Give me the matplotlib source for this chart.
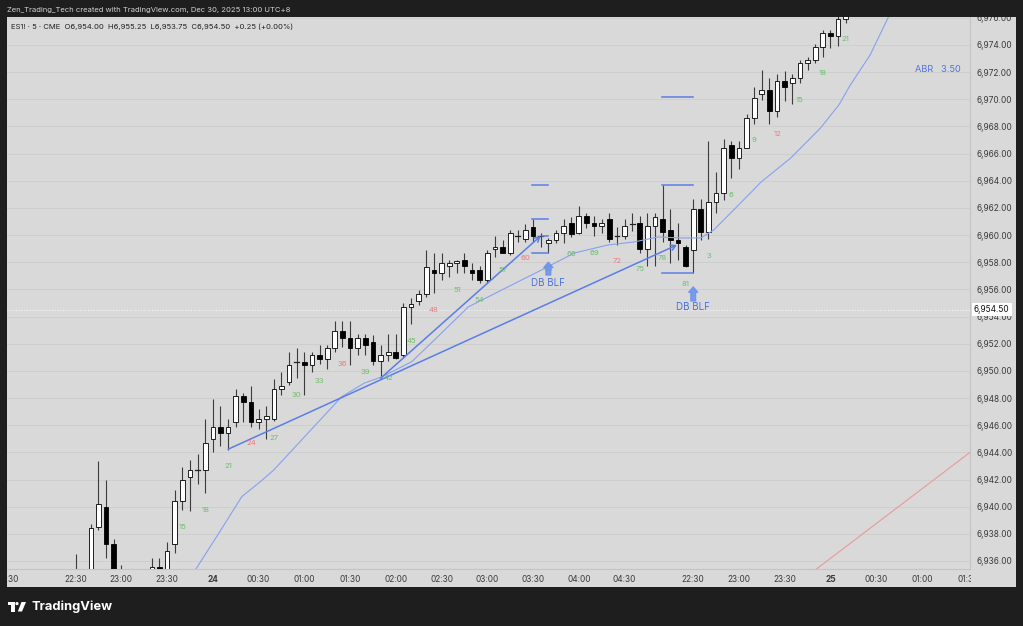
import matplotlib
matplotlib.use("Agg")
import matplotlib.pyplot as plt
from matplotlib.patches import Rectangle, Polygon, Circle
from matplotlib.transforms import Affine2D, blended_transform_factory
from matplotlib.ticker import FuncFormatter, FixedLocator

plt.rcParams['font.family'] = ['Inter', 'DejaVu Sans']

# ES1! 5 min bars, bar 0 = 22:30 (Dec 23), bar 81 = 22:30 (Dec 24)
opens = [6934.0, 6935.0, 6934.5, 6938.5, 6940.0, 6937.25, 6934.5, 6935.0, 6933.8, 6934.2,
         6935.3, 6935.55, 6935.35, 6937.25, 6940.45, 6942.2, 6942.7, 6942.7, 6944.95, 6945.9,
         6945.45, 6946.2, 6948.15, 6947.7, 6946.2, 6946.45, 6946.45, 6948.65, 6949.2, 6950.65,
         6950.65, 6950.4, 6951.15, 6950.9, 6951.65, 6952.9, 6952.4, 6951.65, 6952.4, 6952.15,
         6950.7, 6951.15, 6951.4, 6951.15, 6954.7, 6955.15, 6955.65, 6957.45, 6957.2, 6957.7,
         6957.95, 6958.15, 6957.45, 6957.45, 6956.7, 6958.95, 6959.15, 6958.65, 6959.9, 6959.7,
         6960.6, 6959.95, 6959.4, 6959.65, 6960.15, 6960.9, 6960.15, 6961.4, 6960.9, 6960.65,
         6961.15, 6959.9, 6959.95, 6960.85, 6960.9, 6958.95, 6960.65, 6961.15, 6960.4, 6959.65,
         6959.15, 6958.9, 6961.9, 6960.2, 6962.4, 6963.1, 6966.65, 6965.65, 6966.4, 6968.65,
         6970.4, 6970.65, 6969.15, 6971.35, 6971.2, 6971.6, 6972.65, 6972.9, 6973.85, 6974.85,
         6974.65, 6975.9]
highs = [6936.5, 6935.3, 6938.7, 6943.4, 6942.0, 6937.6, 6935.7, 6935.2, 6934.6, 6935.2,
         6936.2, 6936.2, 6937.4, 6941.2, 6942.95, 6943.45, 6943.9, 6946.45, 6947.9, 6947.4,
         6946.45, 6948.7, 6948.4, 6948.9, 6947.2, 6947.4, 6949.4, 6949.9, 6951.4, 6951.65,
         6951.4, 6951.4, 6951.9, 6951.9, 6953.65, 6953.65, 6953.65, 6952.75, 6952.75, 6952.65,
         6951.9, 6952.75, 6952.75, 6955.0, 6955.35, 6955.95, 6958.9, 6958.65, 6958.65, 6958.15,
         6958.2, 6958.65, 6957.95, 6957.7, 6958.9, 6959.9, 6959.65, 6960.4, 6960.4, 6960.85,
         6961.2, 6960.13, 6959.76, 6960.38, 6961.2, 6961.3, 6962.15, 6961.65, 6961.4, 6961.15,
         6961.65, 6960.6, 6961.15, 6961.65, 6961.4, 6961.65, 6961.65, 6963.7, 6961.9, 6960.9,
         6959.3, 6962.65, 6962.65, 6966.9, 6964.65, 6967.05, 6966.9, 6966.9, 6968.95, 6970.9,
         6972.15, 6971.6, 6971.85, 6972.1, 6971.85, 6972.9, 6973.15, 6974.1, 6975.1, 6975.1,
         6976.1, 6976.6]
lows = [6933.0, 6933.8, 6934.0, 6938.3, 6936.2, 6934.0, 6933.5, 6933.0, 6932.5, 6933.6,
        6934.5, 6934.8, 6935.0, 6936.6, 6939.75, 6939.7, 6941.7, 6941.0, 6944.0, 6944.5,
        6944.2, 6945.9, 6946.2, 6945.9, 6945.7, 6944.95, 6946.3, 6948.2, 6948.95, 6949.45,
        6948.2, 6949.9, 6950.5, 6950.15, 6951.4, 6951.75, 6950.45, 6951.15, 6951.15, 6950.45,
        6949.45, 6950.7, 6950.9, 6950.95, 6953.45, 6954.85, 6955.45, 6955.7, 6956.7, 6956.95,
        6957.2, 6957.2, 6956.7, 6956.45, 6956.45, 6958.4, 6958.65, 6958.5, 6959.5, 6959.5,
        6959.5, 6959.15, 6958.71, 6959.4, 6959.45, 6959.85, 6960.1, 6960.5, 6959.9, 6960.15,
        6959.5, 6959.3, 6959.7, 6960.3, 6958.7, 6957.7, 6957.7, 6959.5, 6957.95, 6958.15,
        6957.65, 6957.2, 6959.65, 6959.7, 6961.65, 6962.6, 6964.2, 6964.9, 6966.4, 6968.2,
        6969.95, 6968.2, 6968.7, 6969.9, 6969.65, 6971.2, 6972.15, 6972.65, 6973.15, 6973.8,
        6973.9, 6975.65]
closes = [6935.0, 6934.5, 6938.4, 6940.2, 6937.25, 6934.5, 6935.0, 6933.8, 6934.2, 6934.8,
          6935.55, 6935.35, 6936.7, 6940.45, 6941.95, 6942.7, 6942.75, 6944.7, 6945.9, 6945.45,
          6945.9, 6948.15, 6947.7, 6946.2, 6946.45, 6946.7, 6948.65, 6948.9, 6950.4, 6950.7,
          6950.4, 6951.15, 6950.9, 6951.65, 6952.9, 6952.4, 6951.65, 6952.4, 6951.9, 6950.7,
          6951.15, 6951.4, 6950.95, 6954.7, 6954.95, 6955.65, 6957.65, 6957.2, 6957.95, 6957.95,
          6958.1, 6957.7, 6957.2, 6956.7, 6958.65, 6959.15, 6958.65, 6960.15, 6959.95, 6960.4,
          6959.9, 6959.9, 6959.65, 6960.15, 6960.7, 6960.1, 6961.4, 6960.9, 6960.65, 6960.9,
          6959.7, 6959.95, 6960.65, 6960.9, 6958.95, 6960.65, 6961.35, 6960.2, 6959.65, 6959.45,
          6957.7, 6961.9, 6960.2, 6962.4, 6963.1, 6966.4, 6965.65, 6966.4, 6968.65, 6970.1,
          6970.65, 6969.15, 6971.35, 6970.9, 6971.6, 6972.65, 6972.9, 6973.85, 6974.85, 6974.65,
          6975.9, 6976.4]

# EMA (thin blue) and slow MA (red)
ema_x = [15.7, 18.8, 21.8, 24.5, 26.0, 34.9, 37.9, 40.2, 44.1, 48.4, 51.5, 55.9, 61.1, 65.4,
         69.8, 73.2, 76.4, 79.4, 82.0, 83.7, 86.3, 88.5, 89.9, 93.8, 97.7, 100.1, 101.6, 104.2, 106.6]
ema_y = [6935.34, 6938.06, 6940.74, 6941.97, 6942.71, 6948.10, 6949.11, 6949.57, 6950.68, 6953.01,
         6954.71, 6955.96, 6957.43, 6958.68, 6959.27, 6959.49, 6959.86, 6959.79, 6959.79, 6960.38,
         6961.85, 6963.10, 6963.91, 6965.68, 6967.89, 6969.58, 6971.05, 6973.26, 6976.06]
ma_x = [97.0, 117.3]
ma_y = [6935.34, 6944.0]

# time axis
time_idx = [-9, 0, 6, 12, 18, 24, 30, 36, 42, 48, 54, 60, 66, 72, 81, 87, 93, 99, 105, 111, 117]
time_lbl = ['04:30', '22:30', '23:00', '23:30', '24', '00:30', '01:00', '01:30', '02:00', '02:30',
            '03:00', '03:30', '04:00', '04:30', '22:30', '23:00', '23:30', '25', '00:30', '01:00', '01:30']

# session bar counts (every 3rd bar)
s1_counts = list(range(3, 82, 3))
s2_counts = list(range(3, 22, 3))

last_price = 6954.50

W, H = 1023, 626
fig = plt.figure(figsize=(W / 100, H / 100), dpi=100)
fig.patch.set_facecolor('#1e1e1e')
px = Affine2D().scale(1 / W, -1 / H).translate(0, 1) + fig.transFigure

BG = '#d9d9d9'
BLUE = '#5a7ee6'

# grey panel behind plot, price axis and time axis
fig.add_artist(Rectangle((7, 17), 1009, 570, transform=px, facecolor=BG, edgecolor='none', zorder=-1))

ax = fig.add_axes([7 / W, 1 - 569 / H, 963 / W, 552 / H])
ax.set_facecolor(BG)
ax.set_xlim(-8.63, 117.3)
ax.set_ylim(6935.41, 6976.06)

for s in ['left', 'top']:
    ax.spines[s].set_visible(False)
for s in ['right', 'bottom']:
    ax.spines[s].set_color('#c4c4c4')
    ax.spines[s].set_linewidth(0.8)

# grid
for lvl in range(6936, 6977, 2):
    ax.axhline(lvl, color='#cecece', lw=0.7, zorder=0)

# y axis on the right
ax.yaxis.tick_right()
ax.yaxis.set_major_locator(FixedLocator(list(range(6936, 6977, 2))))
ax.yaxis.set_major_formatter(FuncFormatter(lambda v, p: '{:,.2f}'.format(v)))
ax.tick_params(axis='y', length=0, pad=5, labelsize=6, labelcolor='#3a3a3a')

# x axis
ax.set_xticks(time_idx)
ax.set_xticklabels(time_lbl)
ax.tick_params(axis='x', length=0, pad=4, labelsize=6, labelcolor='#3a3a3a')
for t in ax.get_xticklabels():
    if t.get_text() in ('24', '25'):
        t.set_fontweight('bold')

# candles
bw = 0.62
for i in range(len(opens)):
    o, h, l, c = opens[i], highs[i], lows[i], closes[i]
    ax.plot([i, i], [l, h], color='#3c3c3c', lw=0.8, zorder=2, solid_capstyle='butt')
    lo, hi = min(o, c), max(o, c)
    if hi - lo < 0.08:
        ax.plot([i - bw / 2, i + bw / 2], [o, o], color='#222', lw=0.9, zorder=3)
        continue
    fc = 'white' if c >= o else 'black'
    ax.add_patch(Rectangle((i - bw / 2, lo), bw, hi - lo, facecolor=fc,
                           edgecolor='black', lw=0.6, zorder=3))

# EMA and slow MA
ax.plot(ema_x, ema_y, color='#86a2ef', lw=0.8, zorder=4)
ax.plot(ma_x, ma_y, color='#e99a9a', lw=0.8, zorder=4)

# drawn trend lines
ax.annotate('', xy=(78.86, 6959.27), xytext=(20.0, 6944.23),
            arrowprops=dict(arrowstyle='->,head_length=0.35,head_width=0.2', color=BLUE, lw=1.1,
                            shrinkA=0, shrinkB=0), zorder=5)
ax.annotate('', xy=(61.0, 6959.94), xytext=(40.0, 6949.46),
            arrowprops=dict(arrowstyle='->,head_length=0.35,head_width=0.2', color=BLUE, lw=1.1,
                            shrinkA=0, shrinkB=0), zorder=5)

# horizontal marks
marks = [(59.9, 62.0, 6963.69), (59.9, 62.0, 6961.19), (61.2, 62.0, 6959.94), (59.9, 62.0, 6958.71),
         (76.94, 80.92, 6963.69), (76.94, 80.92, 6957.19), (76.94, 80.92, 6970.17)]
for x0, x1, yv in marks:
    ax.plot([x0, x1], [yv, yv], color=BLUE, lw=1.1, zorder=5)

# bar count labels
for n in s1_counts:
    i = n - 1
    col = '#ef7b7b' if n % 12 == 0 else '#6cbf6c'
    ax.text(i, lows[i] - 1.22, str(n), color=col, fontsize=5.6, ha='center', va='center', zorder=6)
for n in s2_counts:
    i = 80 + n
    col = '#ef7b7b' if n % 12 == 0 else '#6cbf6c'
    ax.text(i, lows[i] - 1.22, str(n), color=col, fontsize=5.6, ha='center', va='center', zorder=6)

# DB BLF signals
for i, tip, base, ty in [(62, 6958.0, 6957.06, 6956.47), (81, 6956.18, 6955.15, 6954.71)]:
    ax.annotate('', xy=(i, tip), xytext=(i, base),
                arrowprops=dict(arrowstyle='simple,head_length=0.38,head_width=0.65,tail_width=0.34',
                                color='#6f92ec', alpha=0.9, shrinkA=0, shrinkB=0), zorder=7)
    ax.text(i, ty, 'DB BLF', color='#4a73e0', fontsize=7, ha='center', va='center', zorder=7)

# ABR
ax.text(0.9905, 0.905, 'ABR   3.50', transform=ax.transAxes, color='#4e74e6', fontsize=6.6,
        ha='right', va='center')

# last price line + label
ax.axhline(last_price, color='#f4f4f4', lw=0.8, ls=(0, (1, 1.5)), zorder=1)
tr = blended_transform_factory(ax.transAxes, ax.transData)
ax.text(1.004, last_price, '{:,.2f}'.format(last_price), transform=tr, fontsize=6, color='#111',
        ha='left', va='center', clip_on=False,
        bbox=dict(boxstyle='square,pad=0.25', facecolor='white', edgecolor='none'))

# legend line
ax.text(0.004, 0.983, 'ES1! · 5 · CME  O6,954.00  H6,955.25  L6,953.75  C6,954.50  +0.25 (+0.00%)',
        transform=ax.transAxes, fontsize=5.5, color='#222', ha='left', va='center')

# dark frame over overflow
fig.add_artist(Rectangle((0, 0), W, 17, transform=px, facecolor='#1e1e1e', edgecolor='none', zorder=10))
fig.add_artist(Rectangle((0, 587), W, 39, transform=px, facecolor='#1e1e1e', edgecolor='none', zorder=10))
fig.add_artist(Rectangle((0, 0), 7, H, transform=px, facecolor='#1e1e1e', edgecolor='none', zorder=10))
fig.add_artist(Rectangle((1016, 0), 7, H, transform=px, facecolor='#1e1e1e', edgecolor='none', zorder=10))
fig.add_artist(Rectangle((970.5, 570), 45.5, 17, transform=px, facecolor=BG, edgecolor='none', zorder=10))

fig.text(7 / W, 1 - 10 / H, 'Zen_Trading_Tech created with TradingView.com, Dec 30, 2025 13:00 UTC+8',
         fontsize=5.5, color='#d2d2d2', ha='left', va='center', zorder=11)

# TradingView logo
fig.add_artist(Polygon([(7.5, 602), (14.5, 602), (14.5, 611.5), (11.3, 611.5), (11.3, 605), (7.5, 605)],
                       closed=True, transform=px, facecolor='white', edgecolor='none', zorder=11))
fig.add_artist(Circle((17, 603.6), 1.6, transform=px, facecolor='white', edgecolor='none', zorder=11))
fig.add_artist(Polygon([(21.5, 602), (26, 602), (22, 611.5), (17.8, 611.5)],
                       closed=True, transform=px, facecolor='white', edgecolor='none', zorder=11))
fig.text(31 / W, 1 - 606.5 / H, 'TradingView', fontsize=9.3, fontweight='bold', color='white',
         ha='left', va='center', zorder=11)

fig.savefig('out.png', dpi=100, facecolor=fig.get_facecolor())
